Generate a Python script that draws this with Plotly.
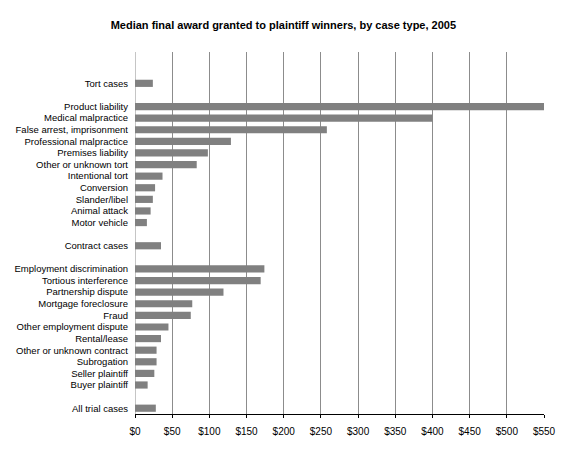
import plotly.graph_objects as go

categories = [
    "Tort cases", " ",
    "Product liability", "Medical malpractice", "False arrest, imprisonment",
    "Professional malpractice", "Premises liability", "Other or unknown tort",
    "Intentional tort", "Conversion", "Slander/libel", "Animal attack", "Motor vehicle",
    "  ",
    "Contract cases", "   ",
    "Employment discrimination", "Tortious interference", "Partnership dispute",
    "Mortgage foreclosure", "Fraud", "Other employment dispute", "Rental/lease",
    "Other or unknown contract", "Subrogation", "Seller plaintiff", "Buyer plaintiff",
    "    ",
    "All trial cases",
]
values = [
    24, None,
    550, 400, 258, 129, 98, 83, 37, 27, 24, 21, 16,
    None,
    35, None,
    174, 169, 119, 77, 75, 45, 35, 29, 29, 26, 17,
    None,
    28,
]
tick_values = [0, 50, 100, 150, 200, 250, 300, 350, 400, 450, 500, 550]
tick_labels = ["$" + str(v) for v in tick_values]

fig = go.Figure(go.Bar(
    x=values, y=categories, orientation="h",
    marker=dict(color="#808080", line=dict(width=0)),
    width=0.62,
))

# page body has an 8px default margin, so the figure is sized to fill the rest
fig.update_layout(
    width=562, height=449,
    margin=dict(l=127, r=26, t=44, b=43, autoexpand=False),
    paper_bgcolor="white", plot_bgcolor="white",
    showlegend=False,
    font=dict(family="Liberation Sans, Arial, sans-serif", color="black"),
    title=dict(
        text="<b>Median final award granted to plaintiff winners, by case type, 2005</b>",
        x=0.490, xanchor="center", y=0.962, yanchor="middle",
        font=dict(size=11, color="black"),
    ),
)
fig.update_xaxes(
    range=[0, 550], tickvals=tick_values, ticktext=tick_labels,
    showgrid=True, gridcolor="#8c8c8c", gridwidth=1,
    zeroline=False, automargin=False,
    showline=True, linecolor="black", linewidth=1,
    ticks="outside", ticklen=3, tickcolor="black",
    tickfont=dict(size=10), ticklabelstandoff=5, fixedrange=True,
)
fig.update_yaxes(
    type="category", categoryorder="array", categoryarray=categories,
    range=[28.5, -2.7], automargin=False,
    showgrid=False, zeroline=False, showline=False,
    ticks="", tickfont=dict(size=9.5), ticklabelstandoff=6,
)
fig.add_shape(type="line", xref="x", yref="paper", x0=0, x1=0, y0=0, y1=1,
              line=dict(color="#8c8c8c", width=1), layer="below")

fig.write_html("out.html")
